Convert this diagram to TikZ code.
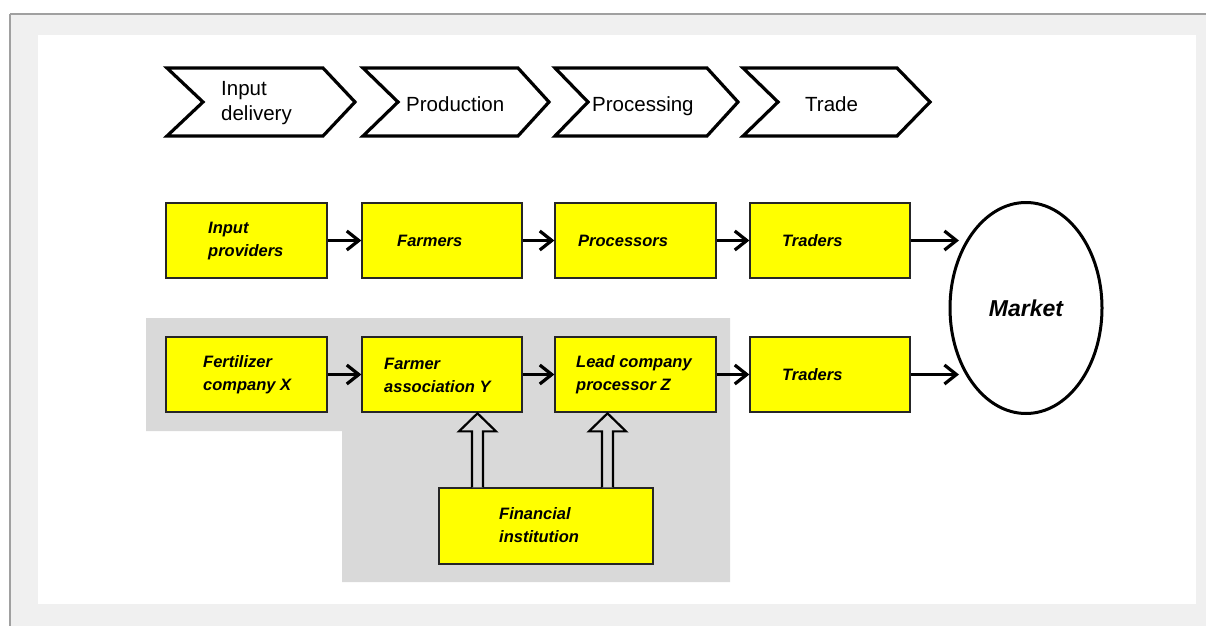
\documentclass[tikz,border=0pt]{standalone}
\usepackage{fontspec}
\setmainfont{Liberation Sans}
\usetikzlibrary{arrows.meta,shapes.geometric}
\definecolor{pagegrey}{HTML}{F0F0F0}
\definecolor{framegrey}{HTML}{A0A0A0}
\definecolor{zonegrey}{HTML}{D9D9D9}
\definecolor{boxyellow}{HTML}{FFFF00}
\tikzset{
  chev/.style={draw=black, line width=3.2pt, fill=white, line join=miter},
  chevlbl/.style={font=\fontsize{20.5}{25}\selectfont, align=left, anchor=west, inner sep=0pt},
  ybox/.style={draw=black!85, line width=1.3pt, fill=boxyellow, minimum width=161pt, minimum height=75pt, inner sep=0pt},
  blbl/.style={font=\fontsize{16.5}{23}\selectfont\bfseries\itshape, align=left, anchor=west, inner sep=0pt},
  conn/.style={line width=3pt, -{Straight Barb[length=12pt,width=19pt,line width=3.2pt]}},
  hollow/.style={draw=black, line width=2.2pt, line join=miter, fill=zonegrey}
}
\begin{document}
\begin{tikzpicture}[x=1pt,y=-1pt]
\useasboundingbox (0,0) rectangle (1206,626);
% page frame
\fill[pagegrey] (10,14) rectangle (1206,626);
\draw[framegrey, line width=2pt] (10,14) -- (1206,14);
\draw[framegrey, line width=1.5pt] (10,14) -- (10,626);
\fill[white] (38,35) rectangle (1196,604);
% grey zone
\fill[zonegrey] (146,318) -- (730,318) -- (730,582) -- (342,582) -- (342,431) -- (146,431) -- cycle;
% chevrons
\draw[chev] (167,68) -- (323,68) -- (355,102) -- (323,136) -- (167,136) -- (203,102) -- cycle;
\draw[chev] (363,68) -- (518,68) -- (549,102) -- (518,136) -- (363,136) -- (398,102) -- cycle;
\draw[chev] (555,68) -- (707,68) -- (738,102) -- (707,136) -- (555,136) -- (588,102) -- cycle;
\draw[chev] (743,68) -- (897,68) -- (930,102) -- (897,136) -- (743,136) -- (778,102) -- cycle;
\node[chevlbl] (c1) at (221,103) {Input\\delivery};
\node[chevlbl, anchor=base west] (c2) at (406,111) {Production};
\node[chevlbl, anchor=base west] (c3) at (592,111) {Processing};
\node[chevlbl, anchor=base west] (c4) at (805,111) {Trade};
% row 1
\node[ybox] (ip) at (246.5,240.5) {};
\node[ybox, minimum width=160pt] (fa) at (442,240.5) {};
\node[ybox] (pr) at (635.5,240.5) {};
\node[ybox, minimum width=160pt] (t1) at (830,240.5) {};
\node[blbl] at (208,241) {Input\\providers};
\node[blbl] at (397,241) {Farmers};
\node[blbl] at (578,241) {Processors};
\node[blbl] at (782,241) {Traders};
% row 2
\node[ybox] (fx) at (246.5,374.5) {};
\node[ybox, minimum width=160pt] (fy) at (442,374.5) {};
\node[ybox] (lz) at (635.5,374.5) {};
\node[ybox, minimum width=160pt] (t2) at (830,374.5) {};
\node[blbl] at (203,375) {Fertilizer\\company X};
\node[blbl] at (384,375) {Farmer\\association Y};
\node[blbl] at (576,375) {Lead company\\processor Z};
\node[blbl] at (782,375) {Traders};
% financial institution
\node[ybox, minimum width=214pt, minimum height=76pt] (fi) at (546,526) {};
\node[blbl] at (499,525) {Financial\\institution};
% market
\node[draw=black, line width=3pt, ellipse, minimum width=152pt, minimum height=211pt, fill=white,
      font=\fontsize{23}{27}\selectfont\bfseries\itshape] (mk) at (1026,308) {Market};
\coordinate (m1) at (959,240.5);
\coordinate (m2) at (959,374.5);
% connectors
\draw[conn] (ip.east) -- (fa.west);
\draw[conn] (fa.east) -- (pr.west);
\draw[conn] (pr.east) -- (t1.west);
\draw[conn] (t1.east) -- (m1);
\draw[conn] (fx.east) -- (fy.west);
\draw[conn] (fy.east) -- (lz.west);
\draw[conn] (lz.east) -- (t2.west);
\draw[conn] (t2.east) -- (m2);
% hollow arrows from financial institution
\coordinate (h1) at (fi.north -| 477.5,0);
\coordinate (h2) at (fi.north -| 607.5,0);
\draw[hollow] (h1) ++(-5.5,0) -- ++(0,-56) -- ++(-13,0) -- ++(18.5,-18) -- ++(18.5,18) -- ++(-13,0) -- ++(0,56);
\draw[hollow] (h2) ++(-5.5,0) -- ++(0,-56) -- ++(-13,0) -- ++(18.5,-18) -- ++(18.5,18) -- ++(-13,0) -- ++(0,56);
\end{tikzpicture}
\end{document}
